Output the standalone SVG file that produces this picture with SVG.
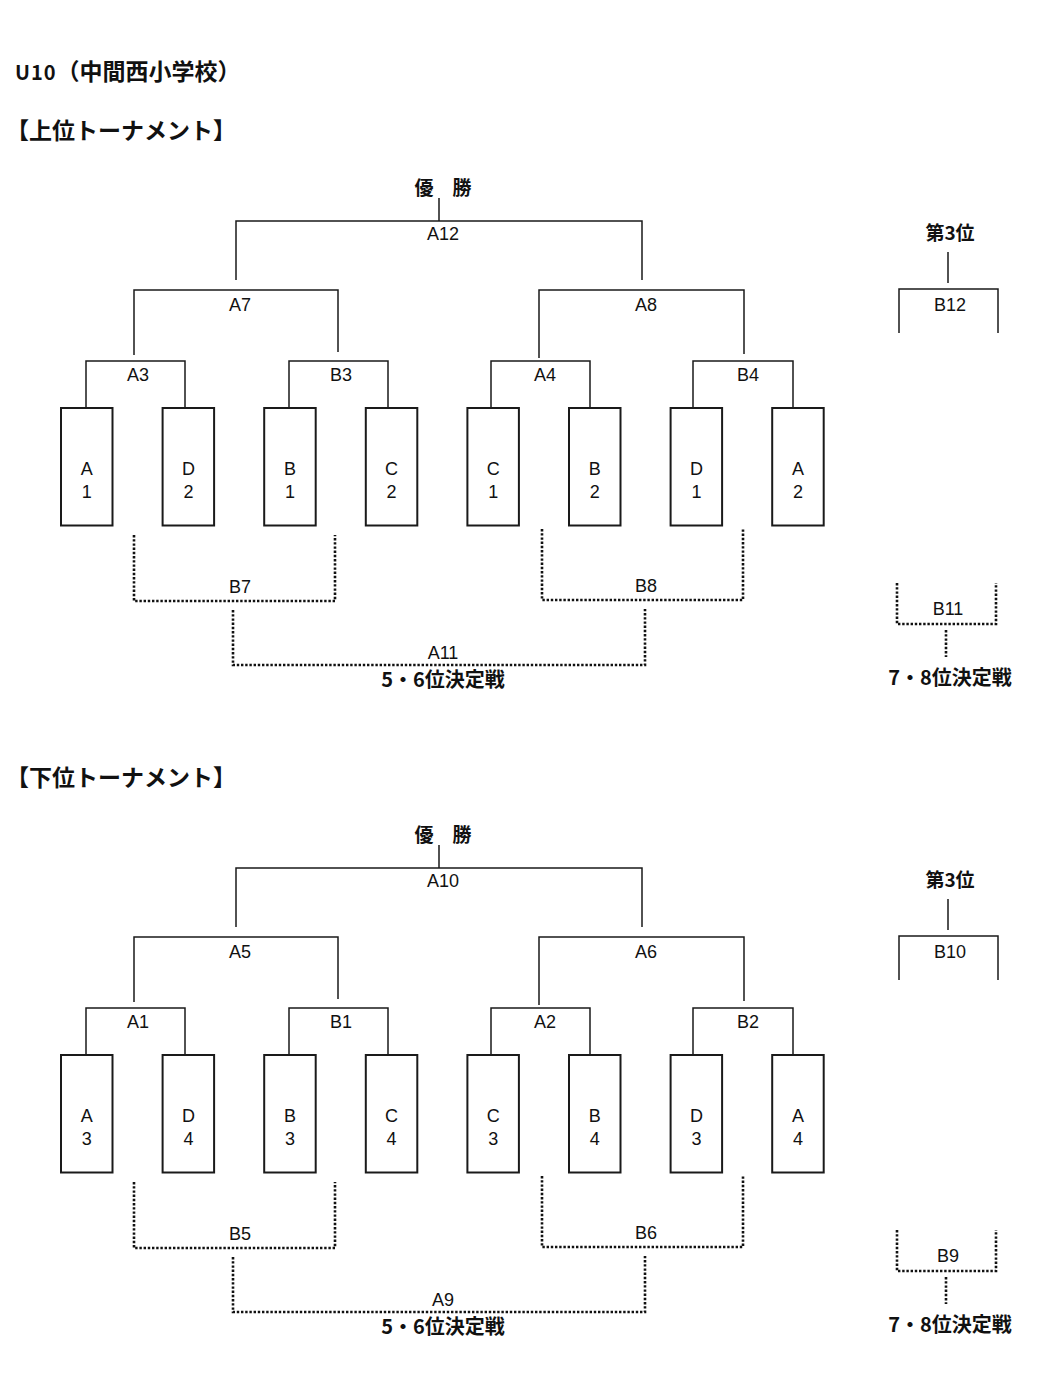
<svg xmlns="http://www.w3.org/2000/svg" width="1060" height="1384" viewBox="0 0 1060 1384">
<style>
.ln{stroke:#1a1a1a;stroke-width:1.5;fill:none}
.dt{stroke:#111;stroke-width:2.6;fill:none;stroke-dasharray:2.4 1.8}
.box{fill:#fff;stroke:#1a1a1a;stroke-width:2}
.lbl{font-family:"Liberation Sans",Arial,sans-serif;font-size:18px;fill:#111;text-anchor:middle}
.bt{font-family:"Liberation Sans",Arial,sans-serif;font-size:18px;fill:#111;text-anchor:middle}
.jp{font-family:"Noto Sans CJK JP","Noto Sans CJK SC",sans-serif;font-weight:bold;fill:#111}
.jc{font-family:"Noto Sans CJK JP","Noto Sans CJK SC",sans-serif;font-weight:bold;fill:#111;text-anchor:middle;font-size:19px}
.jw{font-family:"Noto Sans CJK JP","Noto Sans CJK SC",sans-serif;font-weight:bold;fill:#111;text-anchor:middle;font-size:20px}
</style>
<rect width="1060" height="1384" fill="#fff"/>
<g id="title">
<text class="jp" x="15" y="80" font-size="23"><tspan font-size="20" letter-spacing="1">U10</tspan>（中間西小学校）</text>
</g>
<g id="upper-title"><text class="jp" x="6" y="139" font-size="23">【上位トーナメント】</text></g>
<g id="lower-title"><text class="jp" x="6" y="786" font-size="23">【下位トーナメント】</text></g>

<!-- UPPER -->
<g id="upper">
<g id="u-connectors">
<path class="ln" d="M439 198V221M236 280V221H642V280"/>
<path class="ln" d="M134 355V290H338V352M539 358V290H744V354"/>
<path class="ln" d="M86 407V361H185V407M289 407V361H388V407M491 407V361H590V407M693 407V361H793V407"/>
<path class="ln" d="M948 252V283M899 333V289H998V333"/>
<path class="dt" d="M134 535V601H335V535M233 610V665H645V609M542 529V600H743V529"/>
<path class="dt" d="M897 583V624H996V583M946 630V657"/>
</g>
<g id="u-champ"><text class="jc" x="443" y="195">優　勝</text></g>
<g id="u-A12"><text class="lbl" x="443" y="240">A12</text></g>
<g id="u-A7"><text class="lbl" x="240" y="311">A7</text></g>
<g id="u-A8"><text class="lbl" x="646" y="311">A8</text></g>
<g id="u-A3"><text class="lbl" x="138" y="381">A3</text></g>
<g id="u-B3"><text class="lbl" x="341" y="381">B3</text></g>
<g id="u-A4"><text class="lbl" x="545" y="381">A4</text></g>
<g id="u-B4"><text class="lbl" x="748" y="381">B4</text></g>
<g id="u-box-A1"><rect class="box" x="61" y="408" width="51.5" height="117.5"/><text class="bt" x="86.8" y="475">A</text><text class="bt" x="86.8" y="498">1</text></g>
<g id="u-box-D2"><rect class="box" x="162.6" y="408" width="51.5" height="117.5"/><text class="bt" x="188.4" y="475">D</text><text class="bt" x="188.4" y="498">2</text></g>
<g id="u-box-B1"><rect class="box" x="264.2" y="408" width="51.5" height="117.5"/><text class="bt" x="290" y="475">B</text><text class="bt" x="290" y="498">1</text></g>
<g id="u-box-C2"><rect class="box" x="365.8" y="408" width="51.5" height="117.5"/><text class="bt" x="391.6" y="475">C</text><text class="bt" x="391.6" y="498">2</text></g>
<g id="u-box-C1"><rect class="box" x="467.4" y="408" width="51.5" height="117.5"/><text class="bt" x="493.2" y="475">C</text><text class="bt" x="493.2" y="498">1</text></g>
<g id="u-box-B2"><rect class="box" x="569" y="408" width="51.5" height="117.5"/><text class="bt" x="594.8" y="475">B</text><text class="bt" x="594.8" y="498">2</text></g>
<g id="u-box-D1"><rect class="box" x="670.6" y="408" width="51.5" height="117.5"/><text class="bt" x="696.4" y="475">D</text><text class="bt" x="696.4" y="498">1</text></g>
<g id="u-box-A2"><rect class="box" x="772.2" y="408" width="51.5" height="117.5"/><text class="bt" x="798" y="475">A</text><text class="bt" x="798" y="498">2</text></g>
<g id="u-B7"><text class="lbl" x="240" y="593">B7</text></g>
<g id="u-B8"><text class="lbl" x="646" y="592">B8</text></g>
<g id="u-A11"><text class="lbl" x="443" y="659">A11</text></g>
<g id="u-56"><text class="jw" x="443" y="687">5・6位決定戦</text></g>
<g id="u-3rd"><text class="jc" x="950" y="240">第3位</text></g>
<g id="u-B12"><text class="lbl" x="950" y="311">B12</text></g>
<g id="u-B11"><text class="lbl" x="948" y="615">B11</text></g>
<g id="u-78"><text class="jw" x="950" y="685">7・8位決定戦</text></g>
</g>

<!-- LOWER -->
<g id="lower" transform="translate(0,647)">
<g id="l-connectors">
<path class="ln" d="M439 198V221M236 280V221H642V280"/>
<path class="ln" d="M134 355V290H338V352M539 358V290H744V354"/>
<path class="ln" d="M86 407V361H185V407M289 407V361H388V407M491 407V361H590V407M693 407V361H793V407"/>
<path class="ln" d="M948 252V283M899 333V289H998V333"/>
<path class="dt" d="M134 535V601H335V535M233 610V665H645V609M542 529V600H743V529"/>
<path class="dt" d="M897 583V624H996V583M946 630V657"/>
</g>
<g id="l-champ"><text class="jc" x="443" y="195">優　勝</text></g>
<g id="l-A10"><text class="lbl" x="443" y="240">A10</text></g>
<g id="l-A5"><text class="lbl" x="240" y="311">A5</text></g>
<g id="l-A6"><text class="lbl" x="646" y="311">A6</text></g>
<g id="l-A1"><text class="lbl" x="138" y="381">A1</text></g>
<g id="l-B1"><text class="lbl" x="341" y="381">B1</text></g>
<g id="l-A2"><text class="lbl" x="545" y="381">A2</text></g>
<g id="l-B2"><text class="lbl" x="748" y="381">B2</text></g>
<g id="l-box-A3"><rect class="box" x="61" y="408" width="51.5" height="117.5"/><text class="bt" x="86.8" y="475">A</text><text class="bt" x="86.8" y="498">3</text></g>
<g id="l-box-D4"><rect class="box" x="162.6" y="408" width="51.5" height="117.5"/><text class="bt" x="188.4" y="475">D</text><text class="bt" x="188.4" y="498">4</text></g>
<g id="l-box-B3"><rect class="box" x="264.2" y="408" width="51.5" height="117.5"/><text class="bt" x="290" y="475">B</text><text class="bt" x="290" y="498">3</text></g>
<g id="l-box-C4"><rect class="box" x="365.8" y="408" width="51.5" height="117.5"/><text class="bt" x="391.6" y="475">C</text><text class="bt" x="391.6" y="498">4</text></g>
<g id="l-box-C3"><rect class="box" x="467.4" y="408" width="51.5" height="117.5"/><text class="bt" x="493.2" y="475">C</text><text class="bt" x="493.2" y="498">3</text></g>
<g id="l-box-B4"><rect class="box" x="569" y="408" width="51.5" height="117.5"/><text class="bt" x="594.8" y="475">B</text><text class="bt" x="594.8" y="498">4</text></g>
<g id="l-box-D3"><rect class="box" x="670.6" y="408" width="51.5" height="117.5"/><text class="bt" x="696.4" y="475">D</text><text class="bt" x="696.4" y="498">3</text></g>
<g id="l-box-A4"><rect class="box" x="772.2" y="408" width="51.5" height="117.5"/><text class="bt" x="798" y="475">A</text><text class="bt" x="798" y="498">4</text></g>
<g id="l-B5"><text class="lbl" x="240" y="593">B5</text></g>
<g id="l-B6"><text class="lbl" x="646" y="592">B6</text></g>
<g id="l-A9"><text class="lbl" x="443" y="659">A9</text></g>
<g id="l-56"><text class="jw" x="443" y="687">5・6位決定戦</text></g>
<g id="l-3rd"><text class="jc" x="950" y="240">第3位</text></g>
<g id="l-B10"><text class="lbl" x="950" y="311">B10</text></g>
<g id="l-B9"><text class="lbl" x="948" y="615">B9</text></g>
<g id="l-78"><text class="jw" x="950" y="685">7・8位決定戦</text></g>
</g>
</svg>
